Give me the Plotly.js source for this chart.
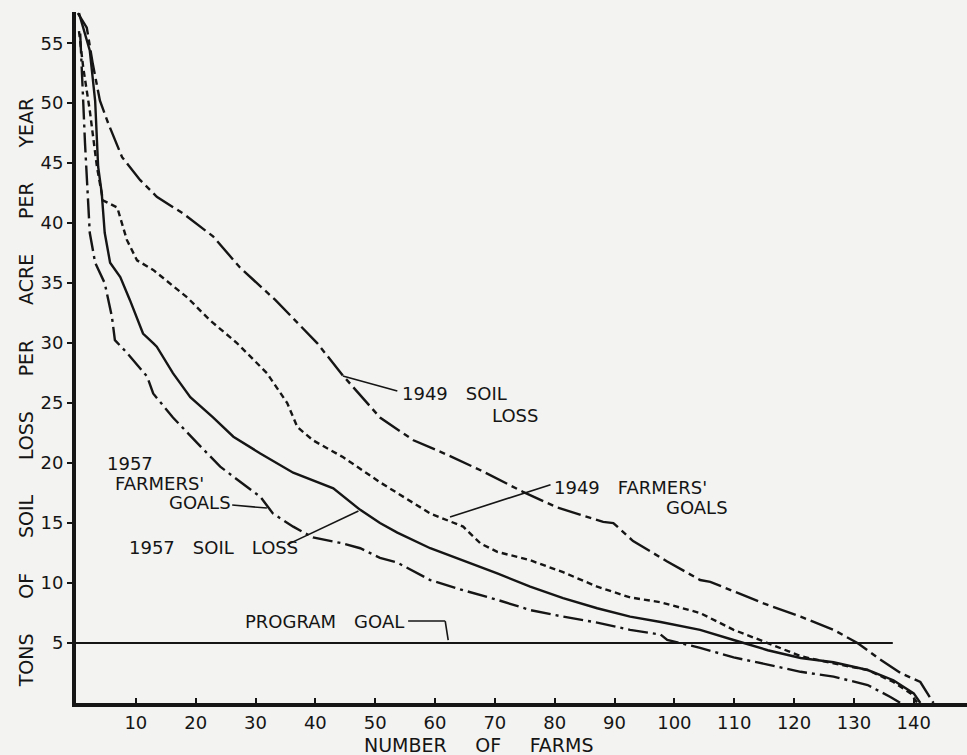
<!DOCTYPE html>
<html>
<head>
<meta charset="utf-8">
<script src="https://cdn.plot.ly/plotly-3.0.1.min.js"></script>
<style>
html,body{margin:0;padding:0;background:#f3f3f1;}
#chart{width:967px;height:755px;}
</style>
</head>
<body>
<div id="chart"></div>
<script>
// ---- data (number of farms vs tons of soil loss per acre per year) ----
const soilLoss1949X = [0.3, 1.8, 2.8, 4.0, 5.4, 7.7, 10.7, 13.5, 17.9, 22.9, 27.4, 33.3, 40.3, 44.6, 50.8, 56.4, 62.0, 67.6, 74.7, 80.4, 88.1, 89.8, 93.1, 98.8, 104.3, 106.0, 114.9, 121.1, 126.6, 130.6, 133.9, 137.8, 141.1, 143.3];
const soilLoss1949Y = [57.5, 56.3, 53.3, 50.2, 48.3, 45.5, 43.6, 42.2, 40.8, 38.9, 36.3, 33.6, 30.0, 27.3, 23.8, 21.9, 20.7, 19.4, 17.6, 16.3, 15.1, 15.0, 13.5, 11.8, 10.25, 10.1, 8.3, 7.2, 6.1, 5.0, 3.8, 2.5, 1.75, 0];

const goals1949X = [0.5, 1.2, 2.3, 3.5, 4.5, 6.9, 8.5, 10.2, 12.9, 18.6, 22.4, 26.9, 31.9, 35.3, 37.0, 39.6, 44.6, 50.8, 53.7, 59.2, 64.7, 67.6, 70.4, 75.9, 81.4, 87.1, 92.6, 97.7, 104.3, 109.9, 115.6, 121.1, 126.6, 132.3, 136.6, 139.5, 140.6];
const goals1949Y = [56.0, 53.0, 49.4, 44.7, 41.9, 41.3, 38.6, 36.9, 36.1, 33.8, 31.9, 30.0, 27.5, 25.0, 23.0, 21.9, 20.5, 18.4, 17.5, 15.8, 14.7, 13.3, 12.6, 11.9, 10.9, 9.7, 8.8, 8.4, 7.5, 6.1, 5.0, 3.9, 3.3, 2.75, 1.75, 0.8, 0];

const soilLoss1957X = [0.5, 2.3, 3.2, 3.7, 4.3, 4.8, 5.7, 7.4, 9.0, 11.2, 12.9, 13.5, 16.2, 19.1, 22.9, 26.3, 30.8, 36.3, 43.0, 47.5, 50.8, 53.7, 59.2, 64.7, 70.4, 75.9, 81.4, 87.1, 92.6, 97.7, 104.3, 109.9, 115.6, 121.1, 126.6, 132.3, 136.6, 140.0, 141.1];
const soilLoss1957Y = [57.5, 54.4, 50.2, 44.7, 42.5, 39.2, 36.7, 35.5, 33.6, 30.8, 30.0, 29.7, 27.5, 25.5, 23.8, 22.2, 20.8, 19.2, 17.9, 16.1, 15.0, 14.2, 12.9, 11.9, 10.8, 9.7, 8.75, 7.9, 7.2, 6.75, 6.1, 5.25, 4.4, 3.75, 3.4, 2.75, 1.9, 0.8, 0];

const goals1957X = [0.7, 1.0, 1.2, 1.5, 2.0, 2.3, 3.2, 4.8, 6.0, 6.5, 8.5, 11.9, 12.9, 16.2, 20.2, 24.1, 28.6, 30.8, 32.9, 36.3, 39.6, 44.6, 47.5, 50.8, 53.7, 59.2, 64.7, 70.4, 75.9, 81.4, 87.1, 92.6, 97.7, 98.8, 104.3, 109.9, 115.6, 121.1, 126.6, 132.3, 136.1, 137.8];
const goals1957Y = [55.8, 53.0, 50.2, 46.7, 41.9, 39.2, 36.7, 35.0, 32.2, 30.25, 29.2, 27.2, 25.8, 23.8, 21.7, 19.7, 18.0, 17.2, 15.8, 14.7, 13.8, 13.3, 12.9, 12.1, 11.7, 10.25, 9.4, 8.6, 7.75, 7.2, 6.7, 6.1, 5.7, 5.25, 4.6, 3.8, 3.2, 2.6, 2.2, 1.5, 0.5, 0];

const programGoalX = [0, 136.5];
const programGoalY = [5, 5];

const xTickVals = [10, 20, 30, 40, 50, 60, 70, 80, 90, 100, 110, 120, 130, 140];
const xTickText = ['10', '20', '30', '40', '50', '60', '70', '80', '90', '100', '110', '120', '130', '140'];
const yTickVals = [5, 10, 15, 20, 25, 30, 35, 40, 45, 50, 55];
const yTickText = ['5', '10', '15', '20', '25', '30', '35', '40', '45', '50', '55'];

// ---- drawing ----
const INK = '#151515';
const FONT = 'DejaVu Sans, sans-serif';
const sp = '\u2003';
const wide = '\u2003\u2002\u2004';
const mid = '\u2003\u2002';

const traces = [
  {x: soilLoss1949X, y: soilLoss1949Y, mode: 'lines', name: '1949 soil loss',
   line: {color: INK, width: 2.4, dash: '24px,5px,6px,5px'}},
  {x: goals1949X, y: goals1949Y, mode: 'lines', name: "1949 farmers' goals",
   line: {color: INK, width: 2.4, dash: '6px,4px'}},
  {x: soilLoss1957X, y: soilLoss1957Y, mode: 'lines', name: '1957 soil loss',
   line: {color: INK, width: 2.4}},
  {x: goals1957X, y: goals1957Y, mode: 'lines', name: "1957 farmers' goals",
   line: {color: INK, width: 2.4, dash: '20px,5px,3px,5px'}},
  {x: programGoalX, y: programGoalY, mode: 'lines', name: 'program goal',
   line: {color: INK, width: 2}}
];

function label(text, x, y) {
  return {text: text, x: x, y: y, xref: 'x', yref: 'y', xanchor: 'left', yanchor: 'middle',
          showarrow: false, font: {family: FONT, size: 18, color: INK}};
}
function leader(x0, y0, x1, y1) {
  return {type: 'line', xref: 'x', yref: 'y', x0: x0, y0: y0, x1: x1, y1: y1,
          line: {color: INK, width: 1.6}};
}

const layout = {
  width: 967, height: 755,
  margin: {l: 76, r: 0, t: 12, b: 52},
  paper_bgcolor: '#f3f3f1', plot_bgcolor: '#f3f3f1',
  showlegend: false,
  font: {family: FONT, size: 18, color: INK},
  xaxis: {range: [0, 148.9], showgrid: false, zeroline: false, showline: true,
          linecolor: INK, linewidth: 4, ticks: 'inside', ticklen: 5, tickwidth: 2, tickcolor: INK,
          tickvals: xTickVals, ticktext: xTickText, tickfont: {family: FONT, size: 18, color: INK}},
  yaxis: {range: [0, 57.6], showgrid: false, zeroline: false, showline: true,
          linecolor: INK, linewidth: 4, ticks: 'outside', ticklen: 5, tickwidth: 2, tickcolor: INK,
          tickvals: yTickVals, ticktext: yTickText, tickfont: {family: FONT, size: 18, color: INK}},
  annotations: [
    label('1949' + sp + 'SOIL', 54.2, 25.8),
    label('LOSS', 69.2, 24.0),
    label('1949' + sp + "FARMERS'", 79.6, 18.0),
    label('GOALS', 98.2, 16.3),
    label('1957', 4.85, 20.0),
    label("FARMERS'", 6.2, 18.3),
    label('GOALS', 15.2, 16.7),
    label('1957' + sp + 'SOIL' + sp + 'LOSS', 8.5, 13.0),
    label('PROGRAM' + sp + 'GOAL', 27.9, 6.83),
    {text: ['TONS', 'OF', 'SOIL', 'LOSS', 'PER', 'ACRE', 'PER', 'YEAR'].join(wide),
     xref: 'paper', yref: 'y', x: -0.0561, y: 25.9, xanchor: 'center', yanchor: 'middle',
     textangle: -90, showarrow: false, font: {family: FONT, size: 19, color: INK}},
    {text: ['NUMBER', 'OF', 'FARMS'].join(mid), xref: 'x', yref: 'paper', x: 67.2, y: -0.0608,
     xanchor: 'center', yanchor: 'middle', showarrow: false, font: {family: FONT, size: 19, color: INK}}
  ],
  shapes: [
    leader(44.6, 27.25, 53.7, 26.0),
    leader(62.5, 15.5, 79.3, 18.2),
    leader(26.1, 16.5, 31.9, 16.25),
    leader(35.3, 13.2, 47.2, 16.0),
    leader(55.5, 6.83, 61.7, 6.83),
    leader(61.7, 6.83, 62.2, 5.25)
  ]
};

Plotly.newPlot('chart', traces, layout, {displayModeBar: false, staticPlot: true});
</script>
</body>
</html>
